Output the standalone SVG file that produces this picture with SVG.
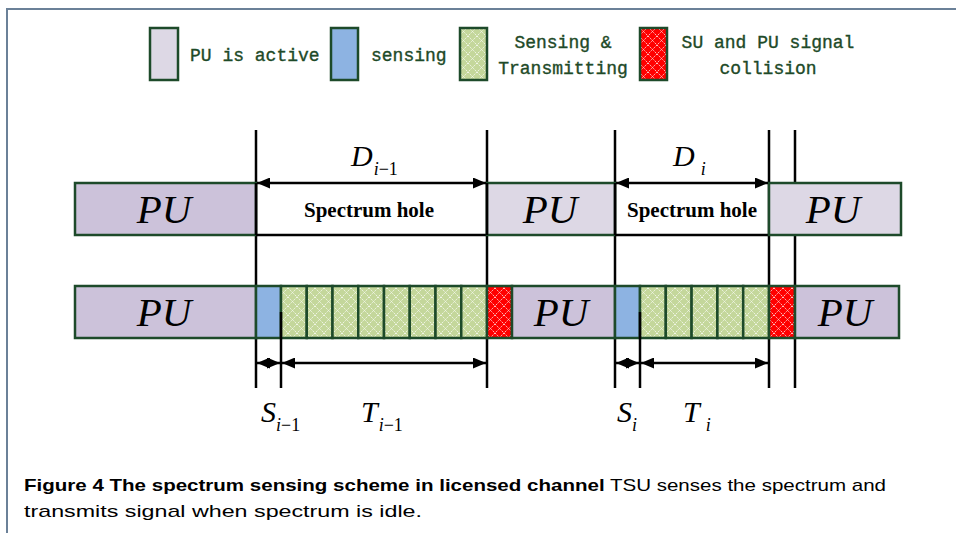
<svg xmlns="http://www.w3.org/2000/svg" width="956" height="533" viewBox="0 0 956 533">
<style>
.frame{stroke:#6b8198;stroke-width:2;fill:none}
.cell{stroke:#1d4a2a;stroke-width:2.5}
.pu{fill:#ccc2da}
.pul{fill:#ddd8e5}
.sen{fill:#8db3e2}
.tx{fill:url(#latG)}
.col{fill:url(#latR)}
.hole{stroke:#000;stroke-width:2.5;fill:none}
.vl{stroke:#000;stroke-width:2.5}
.arr{stroke:#000;stroke-width:2.5;marker-start:url(#ah);marker-end:url(#ah)}
.leg{font-family:"Liberation Mono","DejaVu Sans Mono",monospace;font-size:18px;fill:#1e4a28;stroke:#1e4a28;stroke-width:0.35}
.put{font-family:"Liberation Serif","Times New Roman",serif;font-style:italic;font-size:41px;fill:#000;text-anchor:middle}
.sh{font-family:"Liberation Serif","Times New Roman",serif;font-weight:bold;font-size:21px;fill:#000;text-anchor:middle}
.var{font-family:"Liberation Serif","Times New Roman",serif;font-style:italic;font-size:30px;fill:#000}
.sub{font-size:18px}
.up{font-style:normal}
.cap{font-family:"Liberation Sans",Arial,sans-serif;font-size:17px;fill:#000}
</style>
<defs>
<pattern id="latG" width="9" height="9" patternUnits="userSpaceOnUse">
<rect width="9" height="9" fill="#c4d79b"/>
<path d="M0,0 L9,9 M9,0 L0,9" stroke="#ffffff" stroke-width="1" stroke-opacity="0.75" stroke-dasharray="1.5,1"/>
</pattern>
<pattern id="latR" width="9" height="9" patternUnits="userSpaceOnUse">
<rect width="9" height="9" fill="#ff0000"/>
<path d="M0,0 L9,9 M9,0 L0,9" stroke="#ffffff" stroke-width="1" stroke-opacity="0.75" stroke-dasharray="1.5,1"/>
</pattern>
<marker id="ah" markerWidth="13" markerHeight="11" refX="13" refY="5.5" orient="auto-start-reverse" markerUnits="userSpaceOnUse">
<path d="M0,0 L13,5.5 L0,11 Z" fill="#000"/>
</marker>
</defs>
<rect width="956" height="533" fill="#ffffff"/>
<path class="frame" d="M7,533 L7,9 L956,9"/>

<g id="legend">
<g id="legend-pu"><rect class="cell pul" x="150" y="28" width="28" height="52"/><text class="leg" x="190" y="61">PU is active</text></g>
<g id="legend-sensing"><rect class="cell sen" x="331" y="28" width="27" height="52"/><text class="leg" x="371" y="61">sensing</text></g>
<g id="legend-tx"><rect class="cell tx" x="460" y="28" width="27" height="52"/><text class="leg" text-anchor="middle" x="563" y="48">Sensing &amp;</text><text class="leg" text-anchor="middle" x="563" y="74">Transmitting</text></g>
<g id="legend-col"><rect class="cell col" x="640" y="28" width="27" height="52"/><text class="leg" text-anchor="middle" x="768" y="48">SU and PU signal</text><text class="leg" text-anchor="middle" x="768" y="74">collision</text></g>
</g>

<g id="connectors-lines">
<line class="vl" x1="256" y1="130" x2="256" y2="388"/>
<line class="vl" x1="487" y1="130" x2="487" y2="388"/>
<line class="vl" x1="615" y1="130" x2="615" y2="388"/>
<line class="vl" x1="769" y1="130" x2="769" y2="388"/>
<line class="vl" x1="795" y1="130" x2="795" y2="388"/>
</g>

<g id="row1">
<g id="r1-pu1"><rect class="cell pu" x="75" y="183" width="181" height="52"/><text class="put" x="164" y="223">PU</text></g>
<g id="r1-hole1"><line class="hole" x1="256" y1="235" x2="487" y2="235"/><text class="sh" x="369" y="217">Spectrum hole</text></g>
<g id="r1-pu2"><rect class="cell pul" x="487" y="183" width="128" height="52"/><text class="put" x="550" y="223">PU</text></g>
<g id="r1-hole2"><line class="hole" x1="615" y1="235" x2="769" y2="235"/><text class="sh" x="692" y="217">Spectrum hole</text></g>
<g id="r1-pu3"><rect class="cell pul" x="769" y="183" width="132" height="52"/><text class="put" x="833" y="223">PU</text></g>
</g>

<g id="row2">
<g id="r2-pu1"><rect class="cell pu" x="75" y="286" width="181" height="52"/><text class="put" x="164" y="326">PU</text></g>
<g id="r2-s1"><rect class="cell sen" x="256" y="286" width="25" height="52"/></g>
<g id="r2-t1">
<rect class="cell tx" x="281" y="286" width="25.75" height="52"/>
<rect class="cell tx" x="306.75" y="286" width="25.75" height="52"/>
<rect class="cell tx" x="332.5" y="286" width="25.75" height="52"/>
<rect class="cell tx" x="358.25" y="286" width="25.75" height="52"/>
<rect class="cell tx" x="384" y="286" width="25.75" height="52"/>
<rect class="cell tx" x="409.75" y="286" width="25.75" height="52"/>
<rect class="cell tx" x="435.5" y="286" width="25.75" height="52"/>
<rect class="cell tx" x="461.25" y="286" width="25.75" height="52"/>
</g>
<g id="r2-c1"><rect class="cell col" x="487" y="286" width="25" height="52"/></g>
<g id="r2-pu2"><rect class="cell pu" x="512" y="286" width="103" height="52"/><text class="put" x="561" y="326">PU</text></g>
<g id="r2-s2"><rect class="cell sen" x="615" y="286" width="25" height="52"/></g>
<g id="r2-t2">
<rect class="cell tx" x="640" y="286" width="25.8" height="52"/>
<rect class="cell tx" x="665.8" y="286" width="25.8" height="52"/>
<rect class="cell tx" x="691.6" y="286" width="25.8" height="52"/>
<rect class="cell tx" x="717.4" y="286" width="25.8" height="52"/>
<rect class="cell tx" x="743.2" y="286" width="25.8" height="52"/>
</g>
<g id="r2-c2"><rect class="cell col" x="769" y="286" width="26" height="52"/></g>
<g id="r2-pu3"><rect class="cell pu" x="795" y="286" width="104" height="52"/><text class="put" x="845" y="326">PU</text></g>
</g>

<g id="connectors">
<line class="vl" x1="256" y1="183" x2="256" y2="235"/>
<line class="vl" x1="487" y1="183" x2="487" y2="235"/>
<line class="vl" x1="615" y1="183" x2="615" y2="235"/>
<line class="vl" x1="281" y1="312" x2="281" y2="388"/>
<line class="vl" x1="640" y1="312" x2="640" y2="388"/>
<line class="arr" x1="257" y1="183" x2="486" y2="183"/>
<line class="arr" x1="616" y1="183" x2="768" y2="183"/>
<line class="arr" x1="257" y1="363" x2="280" y2="363"/>
<line class="arr" x1="282" y1="363" x2="486" y2="363"/>
<line class="arr" x1="616" y1="363" x2="639" y2="363"/>
<line class="arr" x1="641" y1="363" x2="768" y2="363"/>
</g>

<g id="labels">
<text class="var" x="351" y="166">D<tspan class="sub" dx="1" dy="9">i</tspan><tspan class="sub up">−1</tspan></text>
<text class="var" x="673" y="166">D<tspan class="sub" dx="6" dy="9">i</tspan></text>
<text class="var" x="261" y="422">S<tspan class="sub" dy="9">i</tspan><tspan class="sub up">−1</tspan></text>
<text class="var" x="361" y="422">T<tspan class="sub" dx="1" dy="9">i</tspan><tspan class="sub up">−1</tspan></text>
<text class="var" x="617" y="422">S<tspan class="sub" dy="9">i</tspan></text>
<text class="var" x="683" y="422">T<tspan class="sub" dx="6" dy="9">i</tspan></text>
</g>

<g id="caption">
<text class="cap" x="24" y="491" textLength="862" lengthAdjust="spacingAndGlyphs"><tspan font-weight="bold">Figure 4  The spectrum sensing scheme in licensed channel</tspan> TSU senses the spectrum and</text>
<text class="cap" x="24" y="517" textLength="398" lengthAdjust="spacingAndGlyphs">transmits signal when spectrum is idle.</text>
</g>
</svg>
